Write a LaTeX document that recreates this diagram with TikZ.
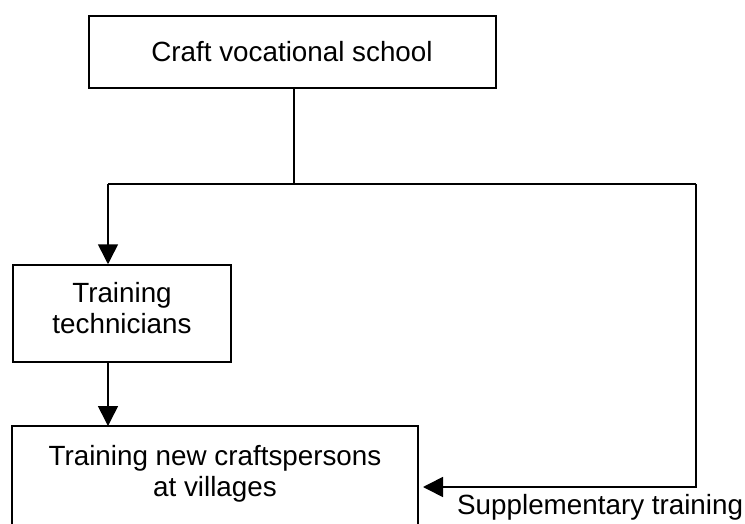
\documentclass[tikz,border=0pt]{standalone}
\usepackage{fontspec}
\setmainfont{Liberation Sans}
\usetikzlibrary{arrows.meta}
\begin{document}
\begin{tikzpicture}[x=1pt,y=-1pt,
  box/.style={draw=black,line width=1.5pt,inner sep=0pt,fill=white},
  lbl/.style={inner sep=0pt,font=\fontsize{27.8}{32}\selectfont},
  link/.style={line width=1.6pt},
  arr/.style={link,-{Triangle[length=20pt,width=20pt]}}]
  \useasboundingbox (0,0) rectangle (745,524);
  \clip (0,0) rectangle (745,524);

  % boxes
  \node[box,minimum width=407pt,minimum height=72pt] (school) at (292.5,52) {};
  \node[box,minimum width=218pt,minimum height=97pt] (tech) at (122,313.5) {};
  \draw[line width=1.5pt] (12,540) -- (12,426) -- (418,426) -- (418,540);
  \coordinate (vilbox) at (215,426);

  % texts
  \node[lbl,anchor=base] (t1) at (292,62) {Craft vocational school};
  \node[lbl,anchor=base] (t2) at (122,302) {Training};
  \node[lbl,anchor=base] (t3) at (122,333.3) {technicians};
  \node[lbl,anchor=base] (t4) at (215,465) {Training new craftspersons};
  \node[lbl,anchor=base] (t5) at (215,496) {at villages};
  \node[lbl,anchor=base west] (sup) at (457,514) {Supplementary training};

  % connectors
  \coordinate (split) at (294,184);
  \coordinate (left) at (108,184);
  \coordinate (right) at (696,184);
  \coordinate (tip) at (423,487);
  \draw[link] (school.south -| split) -- (split);
  \draw[link] (left) -- (right);
  \draw[arr] (left) -- (left |- tech.north);
  \draw[arr] (tech.south -| left) -- (left |- vilbox);
  \draw[arr] (right) |- (tip);
\end{tikzpicture}
\end{document}
